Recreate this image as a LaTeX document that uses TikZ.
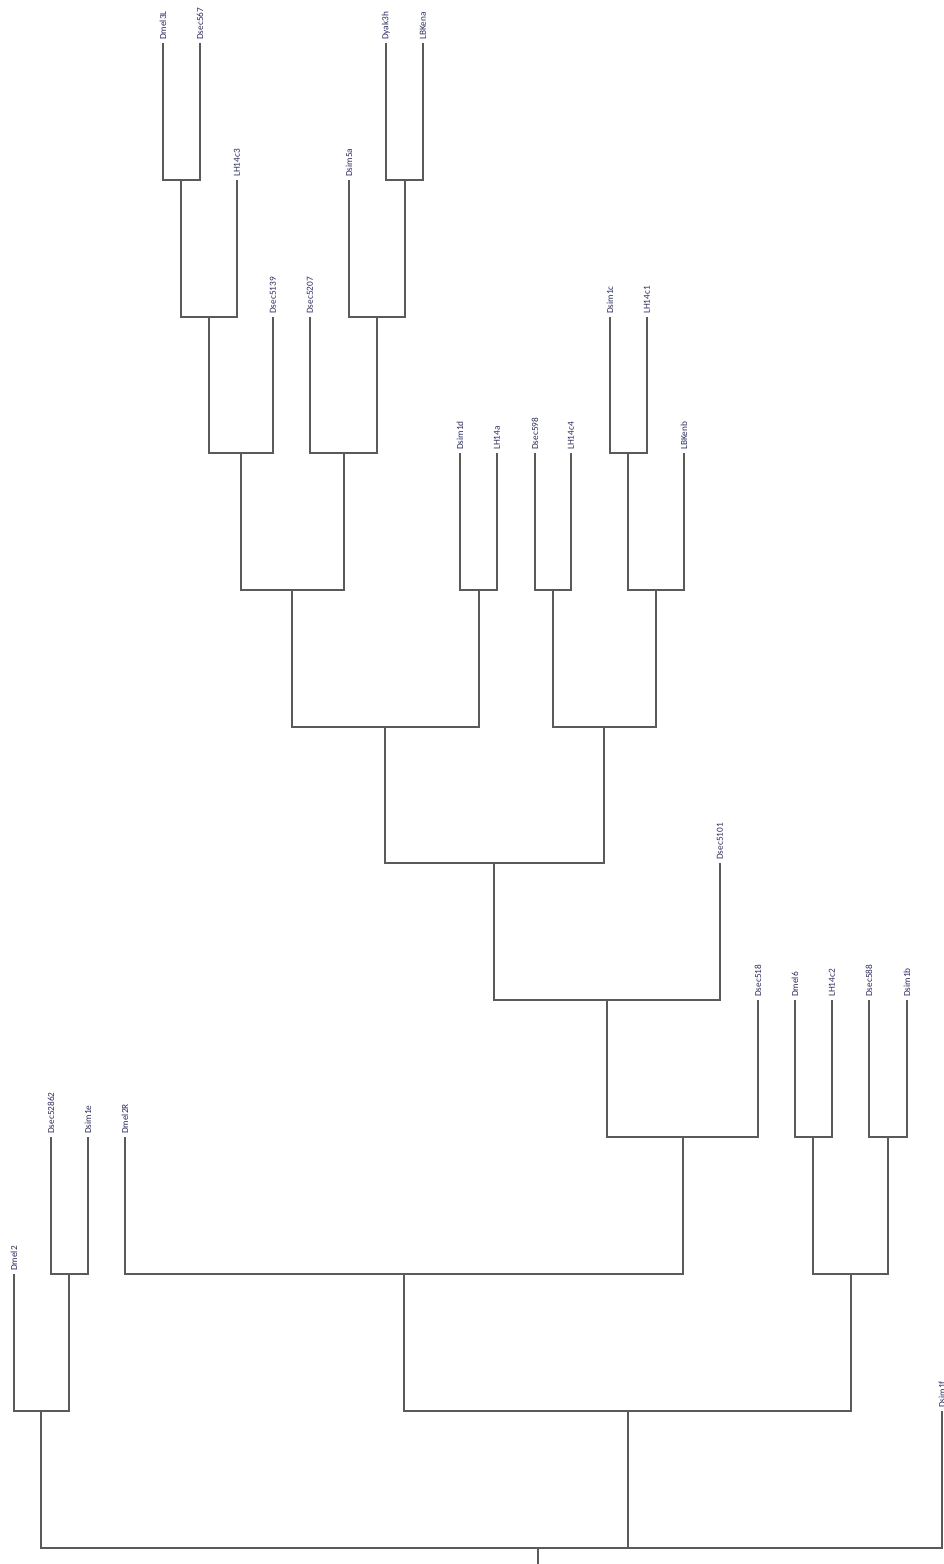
\documentclass[tikz,border=0pt]{standalone}
\usepackage{fontspec}
\setmainfont{Carlito}
\definecolor{edgecol}{RGB}{90,90,90}
\definecolor{labcol}{RGB}{45,45,95}
\begin{document}
\begin{tikzpicture}[x=1pt,y=-1pt,
  leaf/.style={rotate=90,anchor=west,inner sep=3pt,font=\fontsize{9.3}{10}\selectfont,text=labcol},
  branch/.style={draw=edgecol,line width=1.1pt}]
\useasboundingbox (0,0) rectangle (943,1564);
% levels
\def\Lz{43}\def\La{180}\def\Lb{317}\def\Lc{453}\def\Ld{590}\def\Le{727}
\def\Lf{863}\def\Lg{1000}\def\Lh{1137}\def\Li{1274}\def\Lj{1411}\def\Lk{1548}
% internal nodes
\coordinate (A) at (181,\La);
\coordinate (B) at (209,\Lb);
\coordinate (C) at (241,\Lc);
\coordinate (D) at (405,\La);
\coordinate (E) at (377,\Lb);
\coordinate (F) at (344,\Lc);
\coordinate (G) at (292,\Ld);
\coordinate (H) at (479,\Ld);
\coordinate (I) at (385,\Le);
\coordinate (J) at (553,\Ld);
\coordinate (K) at (628,\Lc);
\coordinate (L) at (656,\Ld);
\coordinate (M) at (604,\Le);
\coordinate (N) at (494,\Lf);
\coordinate (O) at (607,\Lg);
\coordinate (P) at (683,\Lh);
\coordinate (Q) at (813,\Lh);
\coordinate (R) at (888,\Lh);
\coordinate (S) at (851,\Li);
\coordinate (T) at (404,\Li);
\coordinate (U) at (628,\Lj);
\coordinate (V) at (69,\Li);
\coordinate (W) at (41,\Lj);
\coordinate (root) at (538,\Lk);
\coordinate (rootend) at (538,1566);
% leaves
\node[leaf] (dmel3l) at (163,\Lz) {Dmel3L};
\node[leaf] (dsec567) at (200,\Lz) {Dsec567};
\node[leaf] (lh14c3) at (237,\La) {LH14c3};
\node[leaf] (dsec5139) at (273,\Lb) {Dsec5139};
\node[leaf] (dsec5207) at (310,\Lb) {Dsec5207};
\node[leaf] (dsim5a) at (349,\La) {Dsim5a};
\node[leaf] (dyak3h) at (386,\Lz) {Dyak3h};
\node[leaf] (lbkena) at (423,\Lz) {LBKena};
\node[leaf] (dsim1d) at (460,\Lc) {Dsim1d};
\node[leaf] (lh14a) at (497,\Lc) {LH14a};
\node[leaf] (dsec598) at (535,\Lc) {Dsec598};
\node[leaf] (lh14c4) at (571,\Lc) {LH14c4};
\node[leaf] (dsim1c) at (610,\Lb) {Dsim1c};
\node[leaf] (lh14c1) at (647,\Lb) {LH14c1};
\node[leaf] (lbkenb) at (684,\Lc) {LBKenb};
\node[leaf] (dsec5101) at (720,\Lf) {Dsec5101};
\node[leaf] (dsec518) at (758,\Lg) {Dsec518};
\node[leaf] (dmel6) at (795,\Lg) {Dmel6};
\node[leaf] (lh14c2) at (832,\Lg) {LH14c2};
\node[leaf] (dsec588) at (869,\Lg) {Dsec588};
\node[leaf] (dsim1b) at (907,\Lg) {Dsim1b};
\node[leaf] (dmel2r) at (125,\Lh) {Dmel2R};
\node[leaf] (dsec52862) at (51,\Lh) {Dsec52862};
\node[leaf] (dsim1e) at (88,\Lh) {Dsim1e};
\node[leaf] (dmel2) at (14,\Li) {Dmel2};
\node[leaf] (dsim1f) at (942,\Lj) {Dsim1f};
% branches
\begin{scope}[branch]
\draw (dmel3l.west) |- (A);
\draw (dsec567.west) |- (A);
\draw (A) |- (B);
\draw (lh14c3.west) |- (B);
\draw (B) |- (C);
\draw (dsec5139.west) |- (C);
\draw (dyak3h.west) |- (D);
\draw (lbkena.west) |- (D);
\draw (dsim5a.west) |- (E);
\draw (D) |- (E);
\draw (dsec5207.west) |- (F);
\draw (E) |- (F);
\draw (C) |- (G);
\draw (F) |- (G);
\draw (dsim1d.west) |- (H);
\draw (lh14a.west) |- (H);
\draw (G) |- (I);
\draw (H) |- (I);
\draw (dsec598.west) |- (J);
\draw (lh14c4.west) |- (J);
\draw (dsim1c.west) |- (K);
\draw (lh14c1.west) |- (K);
\draw (K) |- (L);
\draw (lbkenb.west) |- (L);
\draw (J) |- (M);
\draw (L) |- (M);
\draw (I) |- (N);
\draw (M) |- (N);
\draw (N) |- (O);
\draw (dsec5101.west) |- (O);
\draw (O) |- (P);
\draw (dsec518.west) |- (P);
\draw (dmel6.west) |- (Q);
\draw (lh14c2.west) |- (Q);
\draw (dsec588.west) |- (R);
\draw (dsim1b.west) |- (R);
\draw (Q) |- (S);
\draw (R) |- (S);
\draw (dmel2r.west) |- (T);
\draw (P) |- (T);
\draw (T) |- (U);
\draw (S) |- (U);
\draw (dsec52862.west) |- (V);
\draw (dsim1e.west) |- (V);
\draw (dmel2.west) |- (W);
\draw (V) |- (W);
\draw (W) |- (root);
\draw (U) |- (root);
\draw (dsim1f.west) |- (root);
\draw (root) -- (rootend);
\end{scope}
\end{tikzpicture}
\end{document}
